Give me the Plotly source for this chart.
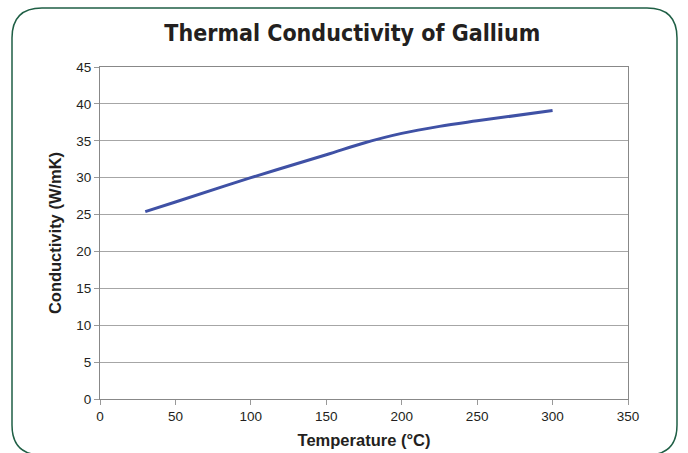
import plotly.graph_objects as go

temperature = [30, 50, 100, 150, 175, 200, 225, 250, 300]
conductivity = [25.4, 26.7, 30.0, 33.1, 34.7, 36.0, 36.95, 37.7, 39.1]

x_ticks = [0, 50, 100, 150, 200, 250, 300, 350]
y_ticks = [0, 5, 10, 15, 20, 25, 30, 35, 40, 45]

W, H = 688, 453
L, R, T, B = 100, 60, 67, 54
pw, ph = W - L - R, H - T - B

def px(x):
    return (x - L) / pw

def py(y):
    return (H - B - y) / ph

fig = go.Figure()
fig.add_trace(go.Scatter(
    x=temperature, y=conductivity, mode="lines",
    line=dict(color="#3f51a5", width=3, shape="spline", smoothing=1.0),
    hoverinfo="x+y", showlegend=False,
))

# rounded border frame
x0, y0, x1, y1, r = 12, 8, 677, 455, 30
path = (
    f"M {px(x0 + r)} {py(y0)} L {px(x1 - r)} {py(y0)} "
    f"Q {px(x1)} {py(y0)} {px(x1)} {py(y0 + r)} "
    f"L {px(x1)} {py(y1 - r)} Q {px(x1)} {py(y1)} {px(x1 - r)} {py(y1)} "
    f"L {px(x0 + r)} {py(y1)} Q {px(x0)} {py(y1)} {px(x0)} {py(y1 - r)} "
    f"L {px(x0)} {py(y0 + r)} Q {px(x0)} {py(y0)} {px(x0 + r)} {py(y0)} Z"
)
fig.add_shape(type="path", path=path, xref="paper", yref="paper",
              line=dict(color="#1f5f45", width=1.5), layer="above")

fig.update_layout(
    width=W, height=H,
    margin=dict(l=L, r=R, t=T, b=B, autoexpand=False),
    paper_bgcolor="white", plot_bgcolor="white",
    title=dict(text="<b>Thermal Conductivity of Gallium</b>",
               font=dict(family="DejaVu Sans Condensed, sans-serif", size=23, color="#231f20"),
               x=0.512, xanchor="center", y=1 - 33 / H, yanchor="middle"),
    font=dict(family="Liberation Sans, Arial, sans-serif", size=13, color="#231f20"),
)
fig.update_xaxes(
    range=[0, 350], tickvals=x_ticks, ticks="outside", ticklen=5, tickcolor="#999",
    showline=True, linecolor="#888", linewidth=1, mirror=True,
    showgrid=False, zeroline=False, automargin=False,
    title=dict(text="<b>Temperature (°C)</b>", font=dict(size=16.5), standoff=11),
    tickfont=dict(size=13.5),
)
fig.update_yaxes(
    range=[0, 45], tickvals=y_ticks, ticks="outside", ticklen=5, tickcolor="#999",
    showline=True, linecolor="#888", linewidth=1, mirror=True,
    showgrid=True, gridcolor="#a6a6a6", gridwidth=1, zeroline=False, automargin=False,
    title=dict(text="<b>Conductivity (W/mK)</b>", font=dict(size=16.5), standoff=10),
    tickfont=dict(size=13.5),
)

fig.write_html("out.html")
